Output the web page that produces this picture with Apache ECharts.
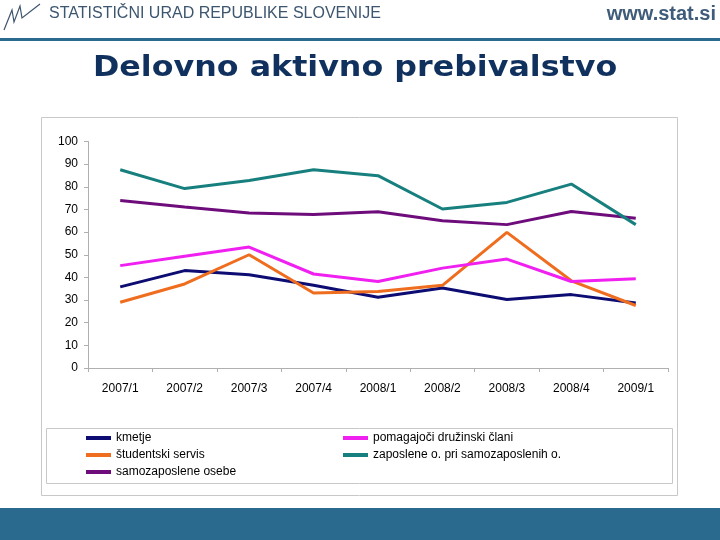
<!DOCTYPE html>
<html><head><meta charset="utf-8">
<script src="https://cdn.jsdelivr.net/npm/echarts@6/dist/echarts.min.js"></script>
<style>html,body{margin:0;padding:0;background:#fff}#c{width:720px;height:540px}</style>
</head><body><div id="c"></div>
<script>
var categories = ['2007/1','2007/2','2007/3','2007/4','2008/1','2008/2','2008/3','2008/4','2009/1'];
var kmetje = [35.8, 43.0, 41.2, 36.5, 31.2, 35.3, 30.2, 32.4, 28.7];
var studentski = [29.0, 37.1, 50.0, 33.1, 33.8, 36.5, 59.9, 38.5, 27.6];
var samozaposlene = [74.0, 71.1, 68.4, 67.8, 69.0, 65.0, 63.3, 69.1, 66.1];
var pomagajoci = [45.2, 49.3, 53.4, 41.5, 38.2, 44.1, 48.1, 38.2, 39.4];
var zaposlene = [87.5, 79.2, 82.8, 87.5, 84.9, 70.2, 73.1, 81.2, 63.3];
var yTicks = [0, 10, 20, 30, 40, 50, 60, 70, 80, 90, 100];

var names = ['kmetje','študentski servis','samozaposlene osebe','pomagajoči družinski člani','zaposlene o. pri samozaposlenih o.'];
var colors = ['#0c0c72','#ef6d1e','#6e0c7c','#f020f0','#17807e'];
var datas = [kmetje, studentski, samozaposlene, pomagajoci, zaposlene];

var chart = echarts.init(document.getElementById('c'), null, {renderer:'canvas'});
var font = 'Liberation Sans, Arial, sans-serif';
var legendText = {fontFamily: '"Liberation Sans Narrow", "Liberation Sans", Arial, sans-serif', fontSize: 12, color: '#000'};
chart.setOption({
  animation: false,
  backgroundColor: '#fff',
  grid: {left: 88, right: 52, top: 141.5, bottom: 172, containLabel: false},
  xAxis: {
    type: 'category', data: categories, boundaryGap: true,
    axisLine: {lineStyle: {color: '#b0b0b0', width: 1}},
    axisTick: {show: true, length: 4, lineStyle: {color: '#b0b0b0'}},
    axisLabel: {fontFamily: font, fontSize: 12, color: '#000', margin: 15}
  },
  yAxis: {
    type: 'value', min: yTicks[0], max: yTicks[yTicks.length-1], interval: 10,
    axisLine: {show: true, lineStyle: {color: '#b0b0b0', width: 1}},
    axisTick: {show: true, length: 4, lineStyle: {color: '#b0b0b0'}},
    splitLine: {show: false},
    axisLabel: {fontFamily: font, fontSize: 12, color: '#000', margin: 10}
  },
  legend: [
    {data: [names[0], names[1], names[2]], orient: 'vertical', left: 86, top: 432,
     itemWidth: 25, itemHeight: 4, itemGap: 5, textStyle: legendText, padding: 0,
     icon: 'rect'},
    {data: [names[3], names[4]], orient: 'vertical', left: 343, top: 432,
     itemWidth: 25, itemHeight: 4, itemGap: 5, textStyle: legendText, padding: 0,
     icon: 'rect'}
  ],
  series: datas.map(function(d, i){
    return {name: names[i], type: 'line', data: d, symbol: 'none', color: colors[i],
      lineStyle: {width: 3, color: colors[i]}, z: 3};
  }),
  graphic: [
    {type: 'rect', shape: {x: 41.5, y: 117.5, width: 636, height: 378}, style: {fill: 'none', stroke: '#c8c8c8', lineWidth: 1}, z: -1, silent: true},
    {type: 'rect', shape: {x: 46.5, y: 428.5, width: 626, height: 55}, style: {fill: 'none', stroke: '#c8c8c8', lineWidth: 1}, z: -1, silent: true},
    {type: 'rect', shape: {x: 0, y: 508, width: 720, height: 32}, style: {fill: '#2a6a8e'}, silent: true},
    {type: 'rect', shape: {x: 0, y: 38, width: 720, height: 3}, style: {fill: '#2a6a8e'}, silent: true},
    {type: 'polyline', shape: {points: [[4,30],[12,10],[14,22],[20,6],[22,18],[40,4]]}, style: {stroke: '#3d5670', lineWidth: 1.2, fill: 'none'}, silent: true},
    {type: 'text', left: 49, top: 6, style: {text: 'STATISTIČNI URAD REPUBLIKE SLOVENIJE', font: '16px "Liberation Sans", Arial, sans-serif', fill: '#3d5670'}, silent: true},
    {type: 'text', right: 4, top: 4, style: {text: 'www.stat.si', font: 'bold 20px "Liberation Sans", Arial, sans-serif', fill: '#3f5c7a'}, silent: true},
    {type: 'text', x: 93, y: 54, scaleX: 1.094, style: {text: 'Delovno aktivno prebivalstvo', font: 'bold 29px "DejaVu Sans", Verdana, sans-serif', fill: '#10305e'}, silent: true}
  ]
});
</script></body></html>
